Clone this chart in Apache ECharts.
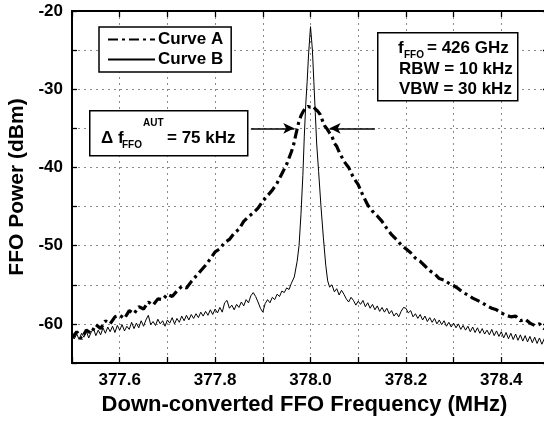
<!DOCTYPE html>
<html><head><meta charset="utf-8">
<script src="https://cdn.jsdelivr.net/npm/echarts@6/dist/echarts.min.js"></script>
<style>html,body{margin:0;padding:0;background:#fff}#c{width:544px;height:421px}</style>
</head><body><div id="c"></div>
<script>
// Curve A (dash-dot, broad line)
const freqA = [377.50,377.51,377.52,377.53,377.54,377.55,377.56,377.57,377.58,377.59,
377.60,377.61,377.62,377.63,377.64,377.65,377.66,377.67,377.68,377.69,
377.70,377.71,377.72,377.73,377.74,377.75,377.76,377.77,377.78,377.79,
377.80,377.81,377.82,377.83,377.84,377.85,377.86,377.87,377.88,377.89,
377.90,377.91,377.92,377.93,377.94,377.95,377.96,377.965,377.97,377.975,
377.98,377.985,377.99,377.995,378.00,378.005,378.01,378.015,378.02,378.025,
378.03,378.035,378.04,378.045,378.05,378.055,378.06,378.07,378.08,378.09,
378.10,378.11,378.12,378.13,378.14,378.15,378.16,378.17,378.18,378.19,
378.20,378.21,378.22,378.23,378.24,378.25,378.26,378.27,378.28,378.29,
378.30,378.31,378.32,378.33,378.34,378.35,378.36,378.37,378.38,378.39,
378.40,378.41,378.42,378.43,378.44,378.45,378.46,378.47,378.48,378.49,378.50];
const powerA = [-61.8,-61.0,-61.9,-60.8,-61.2,-60.1,-60.6,-59.6,-60.0,-59.1,
-58.9,-59.3,-58.3,-58.7,-57.8,-58.1,-57.2,-57.6,-56.8,-56.9,
-56.2,-56.5,-55.8,-55.2,-55.4,-54.6,-53.9,-53.2,-52.5,-51.7,
-50.8,-50.4,-49.6,-49.2,-48.4,-47.9,-46.9,-46.3,-45.8,-45.2,
-44.3,-43.6,-42.9,-42.0,-40.8,-39.6,-38.0,-37.0,-35.6,-34.3,
-33.4,-32.8,-32.4,-32.2,-32.3,-32.2,-32.5,-32.8,-33.2,-34.0,
-34.7,-35.1,-35.6,-36.0,-36.9,-37.3,-38.0,-39.2,-40.0,-41.3,
-42.2,-43.6,-44.8,-45.6,-46.2,-46.9,-47.8,-48.6,-49.2,-49.9,
-50.4,-50.9,-51.6,-52.0,-52.6,-53.2,-53.6,-54.2,-54.4,-54.8,
-55.1,-55.5,-56.0,-56.3,-56.7,-57.0,-57.3,-57.7,-58.0,-58.2,
-58.6,-58.9,-59.1,-59.0,-59.6,-59.4,-59.9,-60.2,-60.0,-60.6,-60.8];

// Curve B (thin solid, narrow line)
const freqB = [377.500,377.505,377.510,377.515,377.520,377.525,377.530,377.535,377.540,377.545,
377.550,377.555,377.560,377.565,377.570,377.575,377.580,377.585,377.590,377.595,
377.600,377.605,377.610,377.615,377.620,377.625,377.630,377.635,377.640,377.645,
377.650,377.655,377.660,377.665,377.670,377.675,377.680,377.685,377.690,377.695,
377.700,377.705,377.710,377.715,377.720,377.725,377.730,377.735,377.740,377.745,
377.750,377.755,377.760,377.765,377.770,377.775,377.780,377.785,377.790,377.795,
377.800,377.805,377.810,377.815,377.820,377.825,377.830,377.835,377.840,377.845,
377.850,377.855,377.860,377.865,377.870,377.875,377.880,377.885,377.890,377.895,
377.900,377.905,377.910,377.915,377.920,377.925,377.930,377.935,377.940,377.945,
377.950,377.955,377.960,377.966,377.972,377.976,377.980,377.984,377.987,377.990,
377.993,377.996,378.000,378.004,378.007,378.010,378.013,378.017,378.022,378.027,
378.032,378.036,378.040,378.045,378.050,378.055,378.060,378.065,378.070,378.075,
378.080,378.085,378.090,378.095,378.100,378.105,378.110,378.115,378.120,378.125,
378.130,378.135,378.140,378.145,378.150,378.155,378.160,378.165,378.170,378.175,
378.180,378.185,378.190,378.195,378.200,378.205,378.210,378.215,378.220,378.225,
378.230,378.235,378.240,378.245,378.250,378.255,378.260,378.265,378.270,378.275,
378.280,378.285,378.290,378.295,378.300,378.305,378.310,378.315,378.320,378.325,
378.330,378.335,378.340,378.345,378.350,378.355,378.360,378.365,378.370,378.375,
378.380,378.385,378.390,378.395,378.400,378.405,378.410,378.415,378.420,378.425,
378.430,378.435,378.440,378.445,378.450,378.455,378.460,378.465,378.470,378.475,
378.480,378.485,378.490,378.495,378.500];
const powerB = [-61.0,-61.9,-61.3,-62.0,-61.2,-61.7,-60.9,-61.8,-61.1,-60.6,
-61.5,-60.8,-61.4,-60.5,-61.2,-60.4,-61.0,-60.3,-61.1,-60.2,
-60.8,-60.1,-60.9,-60.3,-60.7,-59.8,-60.6,-59.9,-60.5,-59.6,
-60.3,-59.5,-58.9,-60.1,-59.7,-60.2,-59.4,-60.0,-59.6,-60.3,
-59.5,-59.9,-59.2,-60.0,-59.3,-59.8,-59.0,-59.6,-58.9,-59.5,
-58.8,-59.3,-58.7,-59.2,-58.5,-59.0,-58.4,-58.9,-58.2,-58.8,
-58.1,-58.6,-57.9,-58.5,-57.3,-57.0,-58.0,-57.6,-58.2,-57.5,
-57.9,-57.2,-57.7,-56.9,-57.3,-56.4,-56.0,-56.5,-57.2,-58.0,
-58.5,-57.4,-56.9,-57.3,-56.6,-56.9,-56.2,-56.5,-55.8,-56.0,
-55.4,-55.6,-54.8,-54.0,-52.0,-50.0,-46.0,-41.0,-36.0,-32.0,
-29.0,-25.5,-22.0,-25.0,-29.0,-33.0,-37.0,-40.5,-45.0,-49.0,
-52.5,-54.5,-55.3,-55.0,-55.9,-55.5,-56.3,-55.7,-56.2,-56.8,
-57.2,-56.6,-57.0,-57.6,-57.1,-57.5,-57.0,-57.8,-57.3,-58.0,
-57.5,-58.2,-57.7,-58.4,-57.9,-58.5,-58.0,-58.7,-58.3,-59.0,
-58.6,-59.1,-58.4,-57.9,-58.0,-58.6,-58.3,-59.1,-58.7,-59.3,
-58.8,-59.5,-59.0,-59.7,-59.2,-59.8,-59.3,-60.0,-59.5,-60.1,
-59.6,-60.3,-59.8,-60.4,-59.9,-60.5,-60.0,-60.7,-60.2,-60.8,
-60.3,-61.0,-60.4,-61.1,-60.5,-61.2,-60.6,-61.3,-60.8,-61.4,
-60.7,-61.5,-60.9,-61.6,-61.0,-61.8,-61.1,-61.9,-61.2,-62.0,
-61.3,-62.1,-61.4,-62.2,-61.5,-62.3,-61.6,-62.4,-61.7,-62.5,
-61.8,-62.6,-61.9,-62.5,-62.0];

const xTickLabels = ['377.6','377.8','378.0','378.2','378.4'];
const yTickLabels = ['-20','-30','-40','-50','-60'];
const seriesNames = ['Curve A','Curve B'];
// FWHM arrows (frequency pairs, level in dBm)
const arrowLeft = [377.875, 377.966];
const arrowRight = [378.135, 378.040];
const arrowLevel = -35;

const FONT = '"Liberation Sans", Arial, Helvetica, sans-serif';
const chart = echarts.init(document.getElementById('c'), null, {renderer:'canvas'});

const axisLineStyle = {color:'#000', width:2};
const tickStyle = {color:'#000', width:1.3};
const gridLine = {show:true, lineStyle:{color:'#8a8a8a', width:1, type:[2,4]}};

const option = {
  backgroundColor:'#fff',
  animation:false,
  grid:{left:72, top:11, width:477, height:352, outerBoundsMode:'none'},
  legend:{
    data:seriesNames, left:99, top:27, orient:'vertical',
    itemWidth:47, itemHeight:14, itemGap:3,
    padding:[4,8,4,8],
    borderColor:'#000', borderWidth:1.5, backgroundColor:'#fff',
    itemStyle:{opacity:0},
    textStyle:{color:'#000', fontFamily:FONT, fontWeight:'bold', fontSize:17, padding:[0,0,0,-2]}
  },
  xAxis:[{
    type:'value', min:377.5, max:378.5, interval:0.1, position:'bottom',
    axisLine:{onZero:false, lineStyle:axisLineStyle},
    axisTick:{inside:true, length:6, lineStyle:tickStyle},
    axisLabel:{margin:9, color:'#000', fontFamily:FONT, fontWeight:'bold', fontSize:17,
      formatter:v=>{const s=v.toFixed(1); return xTickLabels.includes(s)?s:'';}},
    splitLine:gridLine,
    name:'Down-converted FFO Frequency (MHz)', nameLocation:'middle', nameGap:31,
    nameTextStyle:{color:'#000', fontFamily:FONT, fontWeight:'bold', fontSize:22, padding:[0,12,0,0]}
  },{
    type:'value', min:377.5, max:378.5, interval:0.1, position:'top',
    axisLine:{onZero:false, lineStyle:axisLineStyle},
    axisTick:{inside:true, length:6, lineStyle:tickStyle},
    axisLabel:{show:false}, splitLine:{show:false}
  }],
  yAxis:[{
    type:'value', min:-65, max:-20, interval:5, position:'left',
    axisLine:{onZero:false, lineStyle:axisLineStyle},
    axisTick:{inside:true, length:5, lineStyle:tickStyle},
    axisLabel:{margin:9, color:'#000', fontFamily:FONT, fontWeight:'bold', fontSize:17,
      formatter:v=>{const s=String(Math.round(v)); return yTickLabels.includes(s)?s:'';}},
    splitLine:gridLine,
    name:'FFO Power (dBm)', nameLocation:'middle', nameGap:40,
    nameTextStyle:{color:'#000', fontFamily:FONT, fontWeight:'bold', fontSize:21}
  },{
    type:'value', min:-65, max:-20, interval:5, position:'right',
    axisLine:{onZero:false, lineStyle:axisLineStyle},
    axisTick:{inside:true, length:6, lineStyle:tickStyle},
    axisLabel:{show:false}, splitLine:{show:false}
  }],
  series:[
    {
      name:seriesNames[1], type:'line', symbol:'none', z:2,
      data:freqB.map((f,i)=>[f,powerB[i]]),
      lineStyle:{color:'#000', width:1}, itemStyle:{color:'#000'}
    },
    {
      name:seriesNames[0], type:'line', symbol:'none', z:3,
      data:freqA.map((f,i)=>[f,powerA[i]]),
      lineStyle:{color:'#000', width:3.2, type:[10,4,3,4]}, itemStyle:{color:'#000'},
      markLine:{
        silent:true, symbol:['none','arrow'], symbolSize:[8,11],
        label:{show:false},
        lineStyle:{color:'#000', width:1.5, type:'solid'},
        data:[
          [{coord:[arrowLeft[0],arrowLevel]},{coord:[arrowLeft[1],arrowLevel]}],
          [{coord:[arrowRight[0],arrowLevel]},{coord:[arrowRight[1],arrowLevel]}]
        ]
      }
    }
  ],
  graphic:[
    {type:'rect', left:89, top:110, shape:{width:158, height:45}, z:10,
      style:{fill:'#fff', stroke:'#000', lineWidth:1.5}},
    {type:'text', x:101, y:138, z:11, style:{text:'Δ f', font:'bold 17px '+FONT, fill:'#000', verticalAlign:'middle'}},
    {type:'text', x:122, y:145, z:11, style:{text:'FFO', font:'bold 10px '+FONT, fill:'#000', verticalAlign:'middle'}},
    {type:'text', x:143, y:123, z:11, style:{text:'AUT', font:'bold 10px '+FONT, fill:'#000', verticalAlign:'middle'}},
    {type:'text', x:167, y:138, z:11, style:{text:'= 75 kHz', font:'bold 17px '+FONT, fill:'#000', verticalAlign:'middle'}},

    {type:'rect', left:377, top:32, shape:{width:140, height:68}, z:10,
      style:{fill:'#fff', stroke:'#000', lineWidth:1.5}},
    {type:'text', x:398, y:48, z:11, style:{text:'f', font:'bold 17px '+FONT, fill:'#000', verticalAlign:'middle'}},
    {type:'text', x:404, y:55, z:11, style:{text:'FFO', font:'bold 10px '+FONT, fill:'#000', verticalAlign:'middle'}},
    {type:'text', x:427, y:48, z:11, style:{text:'= 426 GHz', font:'bold 17px '+FONT, fill:'#000', verticalAlign:'middle'}},
    {type:'text', x:399, y:69, z:11, style:{text:'RBW = 10 kHz', font:'bold 17px '+FONT, fill:'#000', verticalAlign:'middle'}},
    {type:'text', x:399, y:89, z:11, style:{text:'VBW = 30 kHz', font:'bold 17px '+FONT, fill:'#000', verticalAlign:'middle'}}
  ]
};
chart.setOption(option);
</script>
</body></html>
